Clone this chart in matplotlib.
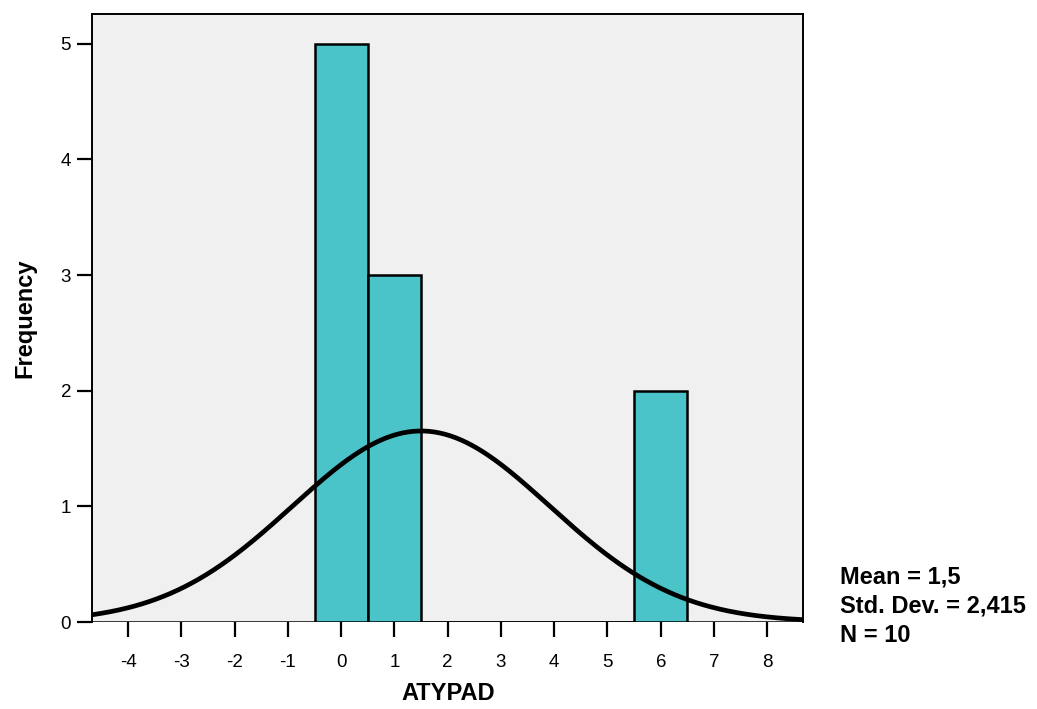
import matplotlib.pyplot as plt
import numpy as np

plt.rcParams["font.family"] = ["Liberation Sans", "DejaVu Sans"]

# raw ATYPAD values (N = 10)
atypad = [0, 0, 0, 0, 0, 1, 1, 1, 6, 6]
bin_edges = np.arange(-0.5, 7.0, 1.0)
x_ticks = list(range(-4, 9))
y_ticks = [0, 1, 2, 3, 4, 5]

bar_color = "#4AC4C8"
bg_color = "#F0F0F0"


def plot_histogram(values):
    values = np.asarray(values, dtype=float)
    n = len(values)
    mean = values.mean()
    sd = values.std(ddof=1)
    counts, edges = np.histogram(values, bins=bin_edges)
    width = edges[1] - edges[0]

    fig = plt.figure(figsize=(10.37, 7.09), dpi=100)
    ax = fig.add_axes([0.0887, 0.1227, 0.6856, 0.858])
    ax.set_facecolor(bg_color)

    ax.bar(edges[:-1], counts, width=width, align="edge", color=bar_color,
           edgecolor="black", linewidth=1.8, zorder=2)

    xs = np.linspace(-4.68, 8.68, 400)
    ys = n * width / (sd * np.sqrt(2 * np.pi)) * np.exp(-0.5 * ((xs - mean) / sd) ** 2)
    ax.plot(xs, ys, color="black", linewidth=3.4, zorder=3, solid_capstyle="butt")

    ax.set_xlim(-4.68, 8.67)
    ax.set_ylim(0, 5.26)
    ax.set_xticks(x_ticks)
    ax.set_xticklabels([str(t) for t in x_ticks])
    ax.set_yticks(y_ticks)
    ax.tick_params(axis="both", direction="out", length=11, width=1.6,
                   labelsize=13.5)
    ax.tick_params(axis="x", pad=12)
    ax.tick_params(axis="y", pad=4)

    for side in ["top", "left", "right"]:
        ax.spines[side].set_linewidth(1.4)
    ax.spines["bottom"].set_visible(False)
    ax.axhline(0, xmin=0, xmax=1, color="black", linewidth=1.8, zorder=1)

    fig.text(0.432, 1 - 693 / 709, "ATYPAD", fontsize=17, fontweight="bold",
             ha="center", va="center")
    fig.text(25 / 1037, 1 - 318 / 709, "Frequency", fontsize=17,
             fontweight="bold", ha="center", va="center", rotation=90)

    mean_txt = f"{mean:.1f}".replace(".", ",")
    sd_txt = f"{sd:.3f}".replace(".", ",")
    fig.text(840 / 1037, 1 - 606 / 709,
             f"Mean = {mean_txt}\nStd. Dev. = {sd_txt}\nN = {n}",
             fontsize=17, fontweight="bold", va="center", ha="left",
             linespacing=1.36)

    fig.savefig("out.png", dpi=100)


plot_histogram(atypad)
